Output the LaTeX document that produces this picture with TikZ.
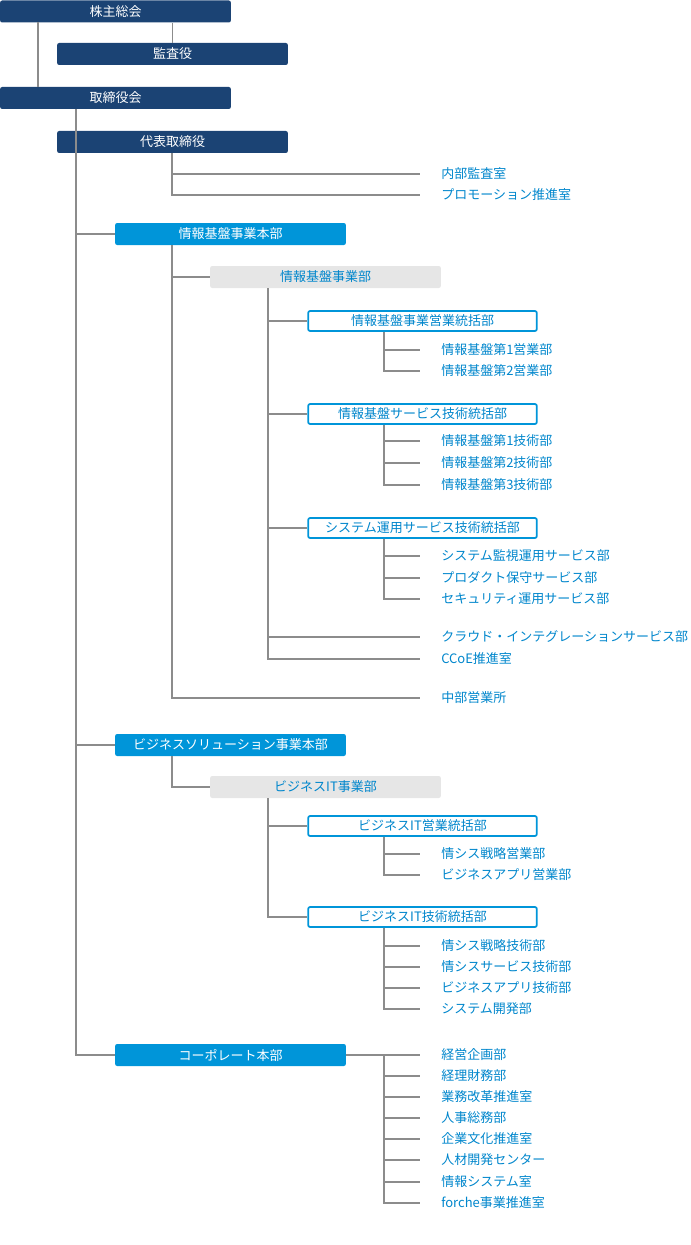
\documentclass[tikz,border=0pt]{standalone}
\usepackage{fontspec}
\setmainfont{Noto Sans CJK JP}
\definecolor{cNavy}{RGB}{27, 67, 116}
\definecolor{cCyan}{RGB}{0, 149, 217}
\definecolor{cText}{RGB}{0, 134, 204}
\definecolor{cBand}{RGB}{230, 230, 230}
\colorlet{cLine}{black!45!white}
\tikzset{
    boxTop/.style={
        fill=cNavy,
        text=white,
        rounded corners=1.5pt,
        minimum width=173pt,
        minimum height=16.5pt,
        inner sep=0pt
    },
    boxHq/.style={
        boxTop,
        fill=cCyan
    },
    boxDiv/.style={
        boxTop,
        fill=cBand,
        text=cText
    },
    boxSec/.style={
        boxTop,
        fill=white,
        draw=cCyan,
        line width=1.3pt,
        text=cText,
        minimum width=171.5pt,
        minimum height=15pt
    },
    nodeLeaf/.style={
        anchor=west,
        text=cText,
        inner xsep=15.75pt,
        inner ysep=0pt
    },
    link/.style={
        draw=cLine,
        line width=0.8pt
    },
}

\begin{document}
\begin{tikzpicture}[x=0.75pt,y=-0.75pt,font=\fontsize{9.75}{12}\selectfont]
    \useasboundingbox (0,0) rectangle (690,1245);

    % top management
    \node[boxTop] (gm) at (115.5, 11.5) {株主総会};
    \node[boxTop] (aud) at (172.5, 54) {監査役};
    \node[boxTop] (board) at (115.5, 98) {取締役会};
    \node[boxTop] (ceo) at (172.5, 142) {代表取締役};

    \node[nodeLeaf] (l_audit) at (420, 174) {内部監査室};
    \node[nodeLeaf] (l_promo) at (420, 195) {プロモーション推進室};

    % infra
    \node[boxHq] (hqInfra) at (230.5, 234) {情報基盤事業本部};
    \node[boxDiv] (divInfra) at (325.5, 277) {情報基盤事業部};
    \node[boxSec] (secSales) at (422.5, 321) {情報基盤事業営業統括部};
    \node[boxSec] (secTech) at (422.5, 414) {情報基盤サービス技術統括部};
    \node[boxSec] (secOps) at (422.5, 528) {システム運用サービス技術統括部};

    \node[nodeLeaf] (l_s1) at (420, 350) {情報基盤第1営業部};
    \node[nodeLeaf] (l_s2) at (420, 371) {情報基盤第2営業部};
    \node[nodeLeaf] (l_t1) at (420, 441) {情報基盤第1技術部};
    \node[nodeLeaf] (l_t2) at (420, 463) {情報基盤第2技術部};
    \node[nodeLeaf] (l_t3) at (420, 485) {情報基盤第3技術部};
    \node[nodeLeaf] (l_o1) at (420, 556) {システム監視運用サービス部};
    \node[nodeLeaf] (l_o2) at (420, 578) {プロダクト保守サービス部};
    \node[nodeLeaf] (l_o3) at (420, 599) {セキュリティ運用サービス部};
    \node[nodeLeaf] (l_cloud) at (420, 637) {クラウド・インテグレーションサービス部};
    \node[nodeLeaf] (l_ccoe) at (420, 659) {CCoE推進室};
    \node[nodeLeaf] (l_chubu) at (420, 698) {中部営業所};

    % business
    \node[boxHq] (hqBiz) at (230.5, 745) {ビジネスソリューション事業本部};
    \node[boxDiv] (divBiz) at (325.5, 787) {ビジネスIT事業部};
    \node[boxSec] (secBizSales) at (422.5, 826) {ビジネスIT営業統括部};
    \node[boxSec] (secBizTech) at (422.5, 917) {ビジネスIT技術統括部};

    \node[nodeLeaf] (l_b1) at (420, 854) {情シス戦略営業部};
    \node[nodeLeaf] (l_b2) at (420, 875) {ビジネスアプリ営業部};
    \node[nodeLeaf] (l_b3) at (420, 946) {情シス戦略技術部};
    \node[nodeLeaf] (l_b4) at (420, 967) {情シスサービス技術部};
    \node[nodeLeaf] (l_b5) at (420, 988) {ビジネスアプリ技術部};
    \node[nodeLeaf] (l_b6) at (420, 1009) {システム開発部};

    % corporate
    \node[boxHq] (hqCorp) at (230.5, 1055) {コーポレート本部};
    \node[nodeLeaf] (l_c1) at (420, 1055) {経営企画部};
    \node[nodeLeaf] (l_c2) at (420, 1076) {経理財務部};
    \node[nodeLeaf] (l_c3) at (420, 1097) {業務改革推進室};
    \node[nodeLeaf] (l_c4) at (420, 1118) {人事総務部};
    \node[nodeLeaf] (l_c5) at (420, 1139) {企業文化推進室};
    \node[nodeLeaf] (l_c6) at (420, 1160) {人材開発センター};
    \node[nodeLeaf] (l_c7) at (420, 1182) {情報システム室};
    \node[nodeLeaf] (l_c8) at (420, 1203) {forche事業推進室};

    % trunks
    \coordinate (tGm) at (38, 22);
    \coordinate (tBoard) at (76, 109);
    \coordinate (tCeo) at (172, 153);
    \coordinate (tInfra) at (172, 245);
    \coordinate (tDiv) at (268, 288);
    \coordinate (tSales) at (384, 332);
    \coordinate (tTech) at (384, 425);
    \coordinate (tOps) at (384, 539);
    \coordinate (tBiz) at (172, 756);
    \coordinate (tDivBiz) at (268, 798);
    \coordinate (tBizSales) at (384, 837);
    \coordinate (tBizTech) at (384, 928);
    \coordinate (tCorp) at (384, 1055);

    \draw[link] (tGm) -- (board.north -| tGm);
    \draw[link] (gm.south -| aud) -- (aud);
    \draw[link] (tBoard) |- (hqInfra.west) (tBoard) |- (hqBiz.west) (tBoard) |- (hqCorp.west);
    \draw[link] (tCeo) |- (l_audit.west) (tCeo) |- (l_promo.west);
    \draw[link] (tInfra) |- (divInfra.west) (tInfra) |- (l_chubu.west);
    \draw[link] (tDiv) |- (secSales.west) (tDiv) |- (secTech.west) (tDiv) |- (secOps.west)
        (tDiv) |- (l_cloud.west) (tDiv) |- (l_ccoe.west);

    \foreach \a/\b in {tSales/l_s1,tSales/l_s2,tTech/l_t1,tTech/l_t2,tTech/l_t3,
        tOps/l_o1,tOps/l_o2,tOps/l_o3,tBizSales/l_b1,tBizSales/l_b2,
        tBizTech/l_b3,tBizTech/l_b4,tBizTech/l_b5,tBizTech/l_b6}
    {
        \draw[link] (\a) |- (\b.west);
    }

    \draw[link] (tBiz) |- (divBiz.west);
    \draw[link] (tDivBiz) |- (secBizSales.west) (tDivBiz) |- (secBizTech.west);
    \draw[link] (hqCorp.east) -- (l_c1.west);
    \foreach \i in {2,...,8}
    {
        \draw[link] (tCorp) |- (l_c\i.west);
    }
\end{tikzpicture}
\end{document}
